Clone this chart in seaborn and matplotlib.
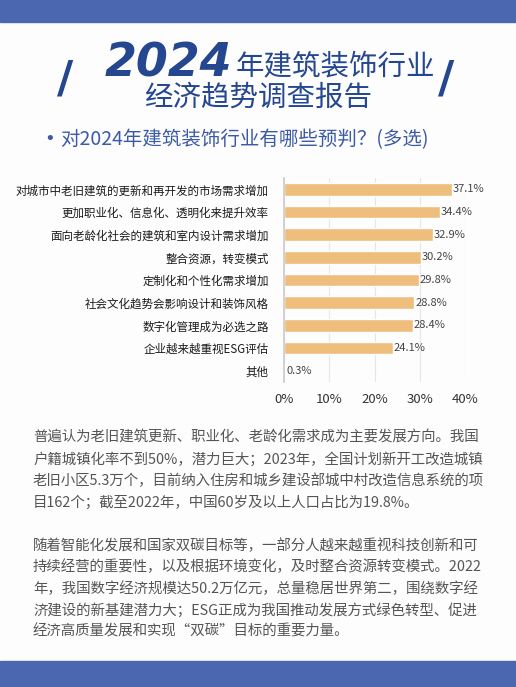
import matplotlib.pyplot as plt
import seaborn as sns
import pandas as pd
from matplotlib.patches import Rectangle

categories = [
    "对城市中老旧建筑的更新和再开发的市场需求增加",
    "更加职业化、信息化、透明化来提升效率",
    "面向老龄化社会的建筑和室内设计需求增加",
    "整合资源，转变模式",
    "定制化和个性化需求增加",
    "社会文化趋势会影响设计和装饰风格",
    "数字化管理成为必选之路",
    "企业越来越重视ESG评估",
    "其他",
]
values = [37.1, 34.4, 32.9, 30.2, 29.8, 28.8, 28.4, 24.1, 0.3]
x_ticks = [0, 10, 20, 30, 40]

body_lines = [
    "普遍认为老旧建筑更新、职业化、老龄化需求成为主要发展方向。我国",
    "户籍城镇化率不到50%，潜力巨大；2023年，全国计划新开工改造城镇",
    "老旧小区5.3万个，目前纳入住房和城乡建设部城中村改造信息系统的项",
    "目162个；截至2022年，中国60岁及以上人口占比为19.8%。",
    "",
    "随着智能化发展和国家双碳目标等，一部分人越来越重视科技创新和可",
    "持续经营的重要性，以及根据环境变化，及时整合资源转变模式。2022",
    "年，我国数字经济规模达50.2万亿元，总量稳居世界第二，围绕数字经",
    "济建设的新基建潜力大；ESG正成为我国推动发展方式绿色转型、促进",
    "经济高质量发展和实现“双碳”目标的重要力量。",
]

sns.set_theme(style="whitegrid")
plt.rcParams["font.family"] = ["Noto Sans CJK SC", "DejaVu Sans"]

W, H = 516, 687
fig = plt.figure(figsize=(W / 100, H / 100), dpi=100)
fig.patch.set_facecolor("#fdfdfe")

blue = "#4a67b0"
dark = "#24478f"
# top and bottom bands
fig.add_artist(Rectangle((0, 1 - 22 / H), 1, 22 / H, transform=fig.transFigure, color=blue, zorder=0))
fig.add_artist(Rectangle((0, 0), 1, 26 / H, transform=fig.transFigure, color=blue, zorder=0))

# title
fig.text(232 / W, 1 - 64 / H, "2024", fontsize=33, fontweight="bold", style="italic",
         color=dark, ha="right", va="center", family="DejaVu Sans")
fig.text(236 / W, 1 - 66 / H, "年建筑装饰行业", fontsize=20.5, color=dark, ha="left", va="center")
fig.text(0.5, 1 - 98 / H, "经济趋势调查报告", fontsize=20.5, color=dark, ha="center", va="center")
fig.text(65 / W, 1 - 80 / H, "/", fontsize=32, fontweight="bold", color=dark, ha="center", va="center", family="DejaVu Sans")
fig.text(446 / W, 1 - 80 / H, "/", fontsize=32, fontweight="bold", color=dark, ha="center", va="center", family="DejaVu Sans")
fig.text(44 / W, 1 - 139 / H, "•", fontsize=13, color="#3d5aa5", ha="left", va="center",
         family="DejaVu Sans")
fig.text(60 / W, 1 - 140 / H, "对2024年建筑装饰行业有哪些预判？(多选)", fontsize=14,
         color="#3d5aa5", ha="left", va="center")

# chart
df = pd.DataFrame({"cat": categories, "val": values})
ax = fig.add_axes([284 / W, 1 - 382 / H, 181 / W, 204 / H])
ax.set_facecolor("none")
sns.barplot(data=df, y="cat", x="val", color="#efbe7d", saturation=1, width=0.55, ax=ax)
ax.set_xlim(0, 40)
ax.set_xticks(x_ticks)
ax.set_xticklabels([f"{t}%" for t in x_ticks], fontsize=9.5, color="#333333")
ax.tick_params(axis="y", labelsize=8.3, labelcolor="#1a1a1a", pad=5)
for lab in ax.get_yticklabels():
    lab.set_fontweight("medium")
ax.tick_params(axis="x", pad=2)
ax.set_xlabel("")
ax.set_ylabel("")
ax.grid(axis="y", visible=False)
ax.grid(axis="x", color="#e6e6e6", linewidth=0.8)
for s in ["top", "right", "bottom"]:
    ax.spines[s].set_visible(False)
ax.spines["left"].set_visible(True)
ax.spines["left"].set_color("#cccccc")
for i, v in enumerate(values):
    ax.text(v + 0.2, i, f"{v}%", va="center", ha="left", fontsize=8, color="#444444")

# body text
y0 = 438
for k, line in enumerate(body_lines):
    fig.text(33 / W, 1 - (y0 + k * 21.5) / H, line, fontsize=10.4, color="#555555",
             ha="left", va="center")

fig.savefig("out.png", dpi=100, facecolor=fig.get_facecolor())
